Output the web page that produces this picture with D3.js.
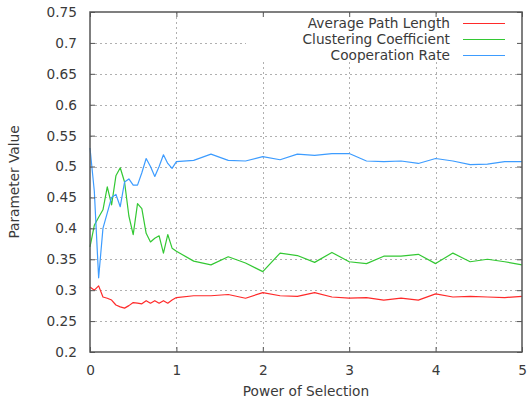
<!DOCTYPE html>
<html>
<head>
<meta charset="utf-8">
<script src="https://cdn.jsdelivr.net/npm/d3@7"></script>
<style>
  html, body { margin: 0; padding: 0; background: #fff; }
  svg { display: block; font-family: "DejaVu Sans", sans-serif; }
</style>
</head>
<body>
<svg id="chart" width="529" height="403"></svg>
<script>
// Power of selection (x) and the three measured parameters
const powerOfSelection = [
  0, 0.05, 0.1, 0.15, 0.2, 0.25, 0.3, 0.35, 0.4, 0.45, 0.5,
  0.55, 0.6, 0.65, 0.7, 0.75, 0.8, 0.85, 0.9, 0.95, 1.0,
  1.2, 1.4, 1.6, 1.8, 2.0, 2.2, 2.4, 2.6, 2.8, 3.0,
  3.2, 3.4, 3.6, 3.8, 4.0, 4.2, 4.4, 4.6, 4.8, 5.0
];
const averagePathLength = [
  0.305, 0.300, 0.307, 0.289, 0.287, 0.284, 0.276, 0.273, 0.271, 0.275, 0.280,
  0.279, 0.278, 0.283, 0.279, 0.283, 0.279, 0.283, 0.279, 0.284, 0.288,
  0.291, 0.291, 0.293, 0.287, 0.296, 0.291, 0.290, 0.296, 0.289, 0.287,
  0.288, 0.284, 0.287, 0.284, 0.294, 0.289, 0.290, 0.289, 0.288, 0.290
];
const clusteringCoefficient = [
  0.370, 0.405, 0.418, 0.430, 0.467, 0.438, 0.485, 0.498, 0.475, 0.420, 0.390,
  0.440, 0.432, 0.392, 0.378, 0.384, 0.388, 0.360, 0.390, 0.368, 0.363,
  0.347, 0.341, 0.354, 0.344, 0.330, 0.360, 0.356, 0.345, 0.361, 0.346,
  0.343, 0.355, 0.355, 0.358, 0.343, 0.360, 0.346, 0.350, 0.346, 0.341
];
const cooperationRate = [
  0.530, 0.460, 0.320, 0.400, 0.425, 0.450, 0.455, 0.435, 0.475, 0.480, 0.470,
  0.470, 0.490, 0.513, 0.500, 0.484, 0.500, 0.519, 0.505, 0.497, 0.508,
  0.510, 0.520, 0.510, 0.509, 0.516, 0.511, 0.520, 0.518, 0.521, 0.521,
  0.509, 0.508, 0.509, 0.505, 0.513, 0.509, 0.503, 0.504, 0.508, 0.508
];
const seriesNames = ["Average Path Length", "Clustering Coefficient", "Cooperation Rate"];
const seriesColors = ["#ff2a2a", "#33c833", "#3d9cff"];
const xTicks = [0, 1, 2, 3, 4, 5];
const yTicks = [0.2, 0.25, 0.3, 0.35, 0.4, 0.45, 0.5, 0.55, 0.6, 0.65, 0.7, 0.75];

const svg = d3.select("#chart");
const W = 529, H = 403;
const m = { left: 90, right: 7, top: 12, bottom: 51 };
const x = d3.scaleLinear().domain([0, 5]).range([m.left, W - m.right]);
const y = d3.scaleLinear().domain([0.2, 0.75]).range([H - m.bottom, m.top]);
const textColor = "#3a3a3a";
const frameColor = "#555";
const fontSize = 13.7;

// dotted grid
const grid = svg.append("g");
grid.selectAll("line.gx").data(xTicks.slice(1, -1)).enter().append("line")
  .attr("x1", d => Math.round(x(d)) + 0.5).attr("x2", d => Math.round(x(d)) + 0.5)
  .attr("y1", y(0.75)).attr("y2", y(0.2))
  .attr("stroke", "#b0b0b0").attr("stroke-width", 1).attr("stroke-dasharray", "2,3");
grid.selectAll("line.gy").data(yTicks.slice(1, -1)).enter().append("line")
  .attr("y1", d => Math.round(y(d)) + 0.5).attr("y2", d => Math.round(y(d)) + 0.5)
  .attr("x1", x(0)).attr("x2", x(5))
  .attr("stroke", "#b0b0b0").attr("stroke-width", 1).attr("stroke-dasharray", "2,3");

// series lines
const line = d3.line().x(d => x(d[0])).y(d => y(d[1]));
[averagePathLength, clusteringCoefficient, cooperationRate].forEach((vals, i) => {
  svg.append("path")
    .datum(powerOfSelection.map((p, k) => [p, vals[k]]))
    .attr("fill", "none")
    .attr("stroke", seriesColors[i])
    .attr("stroke-width", 1.2)
    .attr("stroke-linejoin", "round")
    .attr("d", line);
});

// key with opaque background
const key = svg.append("g");
key.append("rect").attr("x", 246).attr("y", 14).attr("width", 274).attr("height", 48).attr("fill", "#fff");
seriesNames.forEach((name, i) => {
  const cy = 23 + i * 16;
  key.append("text").attr("x", 450).attr("y", cy).attr("dy", "0.35em")
    .attr("text-anchor", "end").attr("font-size", fontSize).attr("fill", textColor).text(name);
  key.append("line").attr("x1", 463).attr("x2", 505).attr("y1", cy + 0.5).attr("y2", cy + 0.5)
    .attr("stroke", seriesColors[i]).attr("stroke-width", 1.2);
});

// axes with inward ticks on all four sides
const axisL = d3.axisLeft(y).tickValues(yTicks).tickSize(-5).tickPadding(13).tickFormat(d3.format("~g"));
const axisR = d3.axisRight(y).tickValues(yTicks).tickSize(-5).tickFormat("");
const axisB = d3.axisBottom(x).tickValues(xTicks).tickSize(-5).tickPadding(13).tickFormat(d3.format("d"));
const axisT = d3.axisTop(x).tickValues(xTicks).tickSize(-5).tickFormat("");

function styleAxis(g) {
  g.select(".domain").remove();
  g.selectAll(".tick line").attr("stroke", frameColor).attr("stroke-width", 1);
  g.selectAll(".tick text").attr("fill", textColor).attr("font-size", fontSize)
    .attr("font-family", "DejaVu Sans, sans-serif");
}
svg.append("g").attr("transform", `translate(${x(0)},0)`).call(axisL).call(styleAxis);
svg.append("g").attr("transform", `translate(${x(5)},0)`).call(axisR).call(styleAxis);
svg.append("g").attr("transform", `translate(0,${y(0.2)})`).call(axisB).call(styleAxis);
svg.append("g").attr("transform", `translate(0,${y(0.75)})`).call(axisT).call(styleAxis);

// plot frame
svg.append("rect")
  .attr("x", x(0)).attr("y", y(0.75))
  .attr("width", x(5) - x(0)).attr("height", y(0.2) - y(0.75))
  .attr("fill", "none").attr("stroke", frameColor).attr("stroke-width", 1.5);

// axis titles
svg.append("text").attr("x", (x(0) + x(5)) / 2).attr("y", 396)
  .attr("text-anchor", "middle").attr("font-size", fontSize).attr("fill", textColor)
  .text("Power of Selection");
svg.append("text")
  .attr("transform", `translate(19,${(y(0.2) + y(0.75)) / 2}) rotate(-90)`)
  .attr("text-anchor", "middle").attr("font-size", fontSize).attr("fill", textColor)
  .text("Parameter Value");
</script>
</body>
</html>
